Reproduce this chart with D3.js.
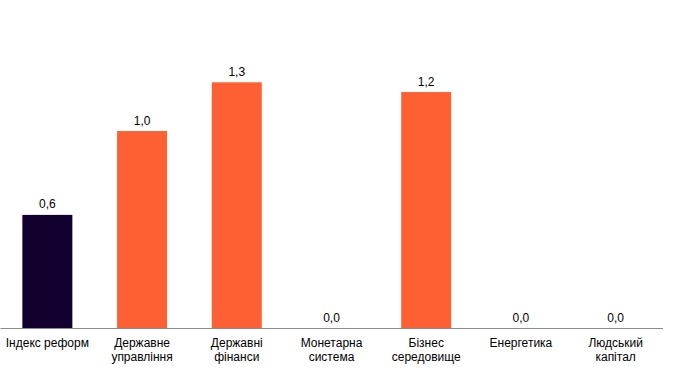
<!DOCTYPE html>
<html>
<head>
<meta charset="utf-8">
<script src="https://cdn.jsdelivr.net/npm/d3@7"></script>
<style>
  body { margin: 0; background: #fff; }
  svg text { font-family: "Liberation Sans", Arial, sans-serif; font-size: 12px; fill: #000; }
</style>
</head>
<body>
<svg width="673" height="387"></svg>
<script>
var categories = [
    ["Індекс реформ"],
    ["Державне", "управління"],
    ["Державні", "фінанси"],
    ["Монетарна", "система"],
    ["Бізнес", "середовище"],
    ["Енергетика"],
    ["Людський", "капітал"]
];
var values = [0.58, 1.01, 1.26, 0, 1.21, 0, 0];
var colors = ["#12002f", "#ff6033", "#ff6033", "#ff6033", "#ff6033", "#ff6033", "#ff6033"];

var svg = d3.select("svg");
var baseline = 328;

var xs = d3.scaleBand()
    .domain(d3.range(categories.length))
    .range([0, 663])
    .paddingInner(0.472)
    .paddingOuter(0.236);

var ys = d3.scaleLinear()
    .domain([0, 1.5])
    .range([baseline, baseline - 1.5 * 195]);

var fmt = function(v) { return d3.format(".1f")(v).replace(".", ","); };

svg.append("g")
    .selectAll("rect")
    .data(values)
    .enter()
    .append("rect")
        .attr("x", function(d, i) { return xs(i); })
        .attr("y", function(d) { return ys(d); })
        .attr("width", xs.bandwidth())
        .attr("height", function(d) { return baseline - ys(d); })
        .attr("fill", function(d, i) { return colors[i]; });

svg.append("g")
    .selectAll("text")
    .data(values)
    .enter()
    .append("text")
        .attr("x", function(d, i) { return xs(i) + xs.bandwidth() / 2; })
        .attr("y", function(d) { return ys(d) - 6.5; })
        .attr("text-anchor", "middle")
        .text(function(d) { return fmt(d); });

// x axis line
var xAxis = d3.axisBottom(xs).tickSize(0).tickFormat("");
var ax = svg.append("g")
    .attr("transform", "translate(0," + baseline + ")")
    .call(xAxis);
ax.select(".domain").attr("stroke", "#8c8c8c").attr("d", "M0.5,0.5H663");

// category labels
var labels = svg.append("g")
    .selectAll("text")
    .data(categories)
    .enter()
    .append("text")
        .attr("x", function(d, i) { return xs(i) + xs.bandwidth() / 2; })
        .attr("y", 347)
        .attr("text-anchor", "middle");

labels.selectAll("tspan")
    .data(function(d) { return d; })
    .enter()
    .append("tspan")
        .attr("x", function() { return d3.select(this.parentNode).attr("x"); })
        .attr("dy", function(d, j) { return j == 0 ? 0 : 14; })
        .text(function(d) { return d; });
</script>
</body>
</html>
